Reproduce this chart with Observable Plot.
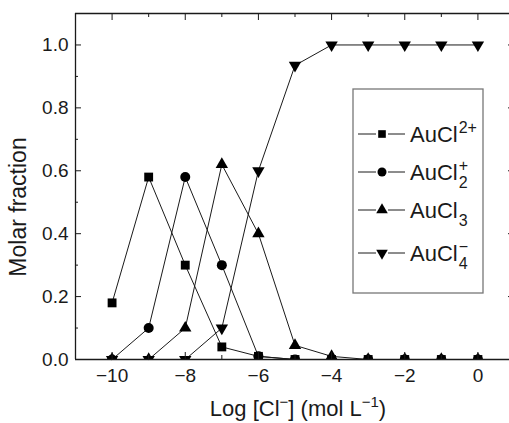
<!DOCTYPE html>
<html><head><meta charset="utf-8">
<script src="https://cdn.jsdelivr.net/npm/d3@7"></script>
<script src="https://cdn.jsdelivr.net/npm/@observablehq/plot@0.6"></script>
<style>body{margin:0;background:#fff;overflow:hidden;}</style>
</head><body><div id="chart"></div>
<script>
// ---- data ----
const logCl = [-10, -9, -8, -7, -6, -5, -4, -3, -2, -1, 0];
const auCl   = [0.18, 0.58, 0.30, 0.04, 0.01, 0, 0, 0, 0, 0, 0];
const auCl2  = [0, 0.10, 0.58, 0.30, 0.01, 0, 0, 0, 0, 0, 0];
const auCl3  = [0, 0, 0.10, 0.62, 0.40, 0.045, 0.01, 0, 0, 0, 0];
const auCl4  = [0, 0, 0, 0.10, 0.60, 0.935, 1, 1, 1, 1, 1];
const seriesNames = ["AuCl2+", "AuCl2 +", "AuCl3", "AuCl4-"];
const legendBase = ["AuCl", "AuCl", "AuCl", "AuCl"];
const legendSub = ["", "2", "3", "4"];
const legendSup = ["2+", "+", "", "\u2212"];
const xTicks = [-10, -8, -6, -4, -2, 0];
const xMinor = [-11, -9, -7, -5, -3, -1];
const yTicks = [0, 0.2, 0.4, 0.6, 0.8, 1.0];
const yMinor = [0.1, 0.3, 0.5, 0.7, 0.9];
const xLabel = ["Log [Cl", "\u2212", "] (mol L", "\u22121", ")"];
const yLabel = "Molar fraction";

// ---- setup ----
const allSeries = [auCl, auCl2, auCl3, auCl4];
const rows = [];
allSeries.forEach((vals, i) => vals.forEach((v, j) => rows.push({x: logCl[j], y: v, s: seriesNames[i]})));

const symbolDown = {draw(ctx, size) {
  const y = Math.sqrt(size / (3 * Math.sqrt(3))), s3 = Math.sqrt(3);
  ctx.moveTo(0, 2 * y); ctx.lineTo(-s3 * y, -y); ctx.lineTo(s3 * y, -y); ctx.closePath();
}};
const symbols = ["square", "circle", "triangle", symbolDown];
const radii = [5.0, 5.0, 4.6, 4.6];

const X0 = -11, X1 = 1, Y0 = 0, Y1 = 1.1;
const pxX = (514 - 75) / (X1 - X0), pxY = (359 - 13) / (Y1 - Y0);
const ink = "#1a1a1a";

const marks = [];
seriesNames.forEach(n => marks.push(Plot.line(rows.filter(r => r.s === n), {x: "x", y: "y", stroke: ink, strokeWidth: 1})));
seriesNames.forEach((n, i) => marks.push(Plot.dot(rows.filter(r => r.s === n), {x: "x", y: "y", symbol: symbols[i], r: radii[i], fill: "#000", stroke: "none", clip: true})));
marks.push(Plot.ruleY([Y0], {stroke: ink, strokeWidth: 1.3}));
marks.push(Plot.ruleY([Y1], {stroke: ink, strokeWidth: 1.3}));
marks.push(Plot.ruleX([X0], {y1: Y0, y2: Y1, stroke: ink, strokeWidth: 1.3}));
marks.push(Plot.ruleY(yTicks, {y: d => d, x1: X0, x2: X0 + 6 / pxX, stroke: ink}));
marks.push(Plot.ruleY(yMinor, {y: d => d, x1: X0, x2: X0 + 3 / pxX, stroke: ink}));
marks.push(Plot.ruleY(yTicks, {y: d => d, x1: X1, x2: X1 - 6 / pxX, stroke: ink}));
marks.push(Plot.ruleY(yMinor, {y: d => d, x1: X1, x2: X1 - 3 / pxX, stroke: ink}));
marks.push(Plot.ruleX(xTicks, {x: d => d, y1: Y0, y2: Y0 + 7 / pxY, stroke: ink}));
marks.push(Plot.ruleX(xMinor, {x: d => d, y1: Y0, y2: Y0 + 4 / pxY, stroke: ink}));
marks.push(Plot.ruleX(xTicks, {x: d => d, y1: Y1, y2: Y1 - 7 / pxY, stroke: ink}));
marks.push(Plot.ruleX(xMinor, {x: d => d, y1: Y1, y2: Y1 - 4 / pxY, stroke: ink}));
marks.push(Plot.axisX({ticks: xTicks, tickSize: 0, tickPadding: 9, label: null, fill: ink}));
marks.push(Plot.axisY({ticks: yTicks, tickSize: 0, tickPadding: 7, tickFormat: d3.format(".1f"), label: null, fill: ink}));

const chart = Plot.plot({
  width: 509, height: 423,
  marginLeft: 75, marginTop: 13, marginBottom: 64, marginRight: 0,
  x: {domain: [X0, X1], range: [75, 514]},
  y: {domain: [Y0, Y1], range: [359, 13]},
  style: {fontFamily: "'Liberation Sans', Arial, sans-serif", fontSize: "19px", background: "#fff", color: ink},
  marks
});
document.getElementById("chart").append(chart);

// ---- axis titles ----
const svg = d3.select(chart);
const font = "'Liberation Sans', Arial, sans-serif";
svg.append("text").attr("transform", "translate(26,207) rotate(-90)")
  .attr("text-anchor", "middle").attr("font-family", font).attr("font-size", 23).attr("fill", ink).text(yLabel);
const xl = svg.append("text").attr("x", 298).attr("y", 416).attr("text-anchor", "middle")
  .attr("font-family", font).attr("font-size", 22).attr("fill", ink);
xl.append("tspan").text(xLabel[0]);
xl.append("tspan").attr("dy", -9).attr("font-size", 15).text(xLabel[1]);
xl.append("tspan").attr("dy", 9).text(xLabel[2]);
xl.append("tspan").attr("dy", -9).attr("font-size", 15).text(xLabel[3]);
xl.append("tspan").attr("dy", 9).text(xLabel[4]);

// ---- legend ----
const lg = svg.append("g").attr("text-anchor", "start");
lg.append("rect").attr("x", 353).attr("y", 89).attr("width", 130).attr("height", 204)
  .attr("fill", "#fff").attr("stroke", "#777").attr("stroke-width", 1.3);
const rowY = [134, 172, 210, 253];
const legendR = [4.3, 4.5, 4.3, 4.3];
seriesNames.forEach((n, i) => {
  const y = rowY[i];
  lg.append("line").attr("x1", 358).attr("x2", 376).attr("y1", y).attr("y2", y).attr("stroke", ink);
  lg.append("line").attr("x1", 388).attr("x2", 405).attr("y1", y).attr("y2", y).attr("stroke", ink);
  const sym = typeof symbols[i] === "string" ? {square: d3.symbolSquare, circle: d3.symbolCircle, triangle: d3.symbolTriangle}[symbols[i]] : symbols[i];
  lg.append("path").attr("transform", `translate(382,${y})`).attr("fill", "#000")
    .attr("d", d3.symbol(sym, Math.PI * legendR[i] * legendR[i])());
  const t = lg.append("text").attr("x", 410).attr("y", y + 8).attr("text-anchor", "start").attr("font-family", font)
    .attr("font-size", 22).attr("fill", ink).text(legendBase[i]);
  const w = t.node().getComputedTextLength();
  if (legendSub[i]) lg.append("text").attr("x", 410 + w + 1).attr("y", y + 16).attr("text-anchor", "start").attr("font-family", font)
    .attr("font-size", 16).attr("fill", ink).text(legendSub[i]);
  if (legendSup[i]) lg.append("text").attr("x", 410 + w + 1).attr("y", y - 1).attr("text-anchor", "start").attr("font-family", font)
    .attr("font-size", 16).attr("fill", ink).text(legendSup[i]);
});
</script>
</body></html>
